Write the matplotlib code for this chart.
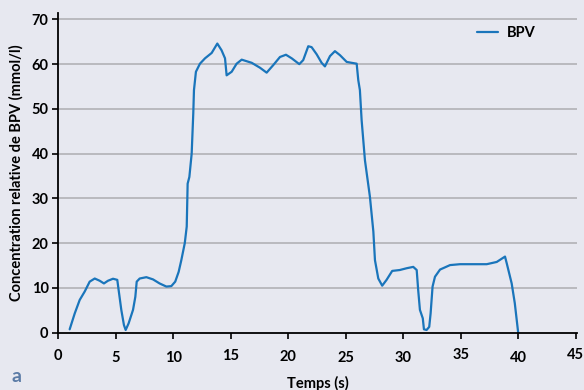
import matplotlib
matplotlib.use('Agg')
import matplotlib.pyplot as plt
import matplotlib.transforms as mtransforms

# BPV concentration over time
temps = [0.99, 1.43, 1.86, 2.3, 2.73, 3.17, 3.6, 3.97, 4.32, 4.76, 5.13, 5.25,
         5.48, 5.71, 5.86, 6.12, 6.5, 6.7, 6.82, 7.08, 7.66, 8.24, 8.81, 9.4,
         9.83, 10.17, 10.47, 10.7, 11.0, 11.17, 11.25, 11.4, 11.6, 11.74, 11.8,
         11.97, 12.32, 12.76, 13.34, 13.83, 14.2, 14.5, 14.64, 15.08, 15.51,
         15.95, 16.82, 17.54, 18.12, 18.7, 19.28, 19.8, 20.3, 20.96, 21.3, 21.74,
         22.03, 22.47, 22.9, 23.19, 23.63, 24.06, 24.5, 25.08, 25.5, 25.95, 26.09,
         26.23, 26.38, 26.67, 27.1, 27.4, 27.54, 27.83, 28.17, 28.55, 29.04, 29.7,
         30.3, 30.87, 31.17, 31.3, 31.45, 31.7, 31.8, 32.03, 32.26, 32.38, 32.55,
         32.76, 33.2, 34.07, 34.94, 36.1, 37.26, 38.13, 38.85, 39.0, 39.43, 39.7,
         40.0]
bpv = [0.75, 4.3, 7.3, 9.2, 11.4, 12.1, 11.6, 11.0, 11.6, 12.05, 11.8, 9.5,
       5.1, 1.7, 0.6, 2.1, 5.1, 8.0, 11.4, 12.1, 12.4, 11.9, 11.0, 10.3,
       10.4, 11.4, 13.6, 16.2, 20.0, 23.7, 33.3, 34.8, 40.0, 49.0, 54.2,
       58.3, 60.1, 61.3, 62.5, 64.6, 63.1, 61.3, 57.5, 58.3, 60.1,
       61.0, 60.3, 59.2, 58.1, 59.8, 61.6, 62.1, 61.3, 60.0, 60.9, 64.0,
       63.8, 62.2, 60.3, 59.5, 61.8, 62.9, 62.0, 60.5, 60.3, 60.1, 56.4,
       54.2, 47.5, 38.5, 30.4, 22.6, 16.2, 12.1, 10.5, 11.8, 13.8, 14.0,
       14.4, 14.7, 14.0, 9.5, 5.1, 3.2, 0.75, 0.6, 1.3, 4.3, 10.3,
       12.5, 14.1, 15.1, 15.3, 15.3, 15.3, 15.8, 17.0, 15.5, 11.0, 6.6,
       -0.1]

xticks = [0, 5, 10, 15, 20, 25, 30, 35, 40, 45]
yticks = [0, 10, 20, 30, 40, 50, 60, 70]
# small vertical shifts (points) of the x tick labels
xlabel_shift = [0, -1.5, -1.5, 0, -0.8, -1.5, -1.5, 0.5, -1.5, 0.5]

bg = '#e7e8f0'
blue = '#1a75bb'

plt.rcParams['font.family'] = ['Lato', 'DejaVu Sans']
plt.rcParams['font.weight'] = 'bold'

fig = plt.figure(figsize=(5.84, 3.90), dpi=100, facecolor=bg)
ax = fig.add_axes([0.0998, 0.147, 0.888, 0.8205], facecolor=bg)

ax.plot(temps, bpv, color=blue, lw=1.6, label='BPV',
        solid_joinstyle='round', solid_capstyle='round')

ax.set_xlim(0, 45.1)
ax.set_ylim(0, 71.5)
ax.set_xticks(xticks)
ax.set_yticks(yticks)
ax.tick_params(axis='both', direction='out', length=4, width=1.2, color='black',
               labelsize=10.5)
ax.tick_params(axis='x', pad=7.5)
ax.tick_params(axis='y', pad=3)

for lab, dy in zip(ax.get_xticklabels(), xlabel_shift):
    lab.set_transform(lab.get_transform() +
                      mtransforms.ScaledTranslation(0, dy / 72, fig.dpi_scale_trans))

for y in yticks[1:]:
    ax.axhline(y, color='#b6b6ba', lw=1.3, zorder=0)

for s in ['top', 'right']:
    ax.spines[s].set_visible(False)
for s in ['left', 'bottom']:
    ax.spines[s].set_linewidth(1.3)
    ax.spines[s].set_color('black')

ax.set_xlabel('Temps (s)', fontsize=10.5, fontweight='bold', labelpad=8)
ax.set_ylabel('Concentration relative de BPV (mmol/l)', fontsize=10.5,
              fontweight='bold', labelpad=6)

ax.legend(loc='upper right', bbox_to_anchor=(0.945, 1.0), frameon=False,
          handlelength=1.4, handletextpad=0.6, fontsize=10.5)

fig.text(0.02, 0.02, 'a', color='#5b7ba6', fontsize=14, fontweight='bold')

fig.savefig('out.png', dpi=100, facecolor=bg)
